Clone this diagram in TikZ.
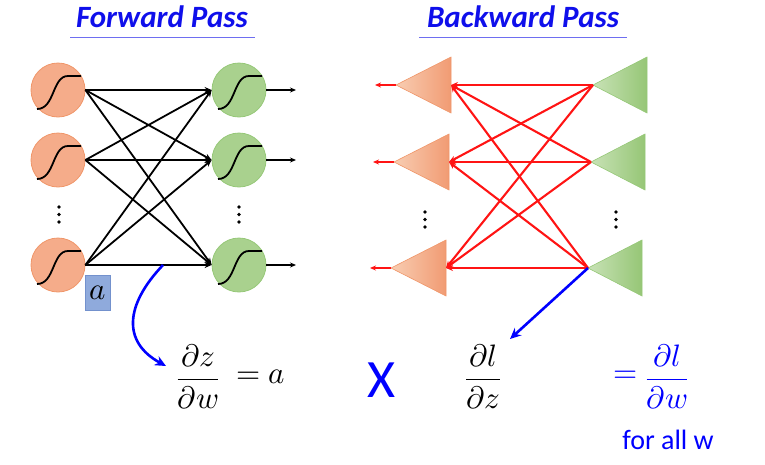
\documentclass[tikz,border=0pt]{standalone}
\usepackage{amsmath}
\usepackage{fontspec}
\usepackage{unicode-math}
\setmathfont{Latin Modern Math}
\newfontfamily\calfont{Carlito}
\usetikzlibrary{arrows.meta}
\definecolor{ttl}{RGB}{15,15,235}
\definecolor{ulc}{RGB}{110,110,240}
\definecolor{orfill}{RGB}{245,172,138}
\definecolor{ordraw}{RGB}{240,150,105}
\definecolor{grfill}{RGB}{169,209,142}
\definecolor{grdraw}{RGB}{150,200,120}
\definecolor{orL}{RGB}{248,205,178}
\definecolor{orR}{RGB}{241,155,115}
\definecolor{grL}{RGB}{200,226,182}
\definecolor{grR}{RGB}{150,198,118}
\definecolor{boxfill}{RGB}{143,170,220}
\definecolor{boxdraw}{RGB}{115,145,205}
\definecolor{eqblue}{RGB}{0,0,255}
\definecolor{redl}{RGB}{255,20,20}
\tikzset{
  neuronO/.style={circle,minimum size=54pt,inner sep=0pt,fill=orfill,draw=ordraw,line width=0.8pt},
  neuronG/.style={circle,minimum size=54pt,inner sep=0pt,fill=grfill,draw=grdraw,line width=0.8pt},
  sigline/.style={line width=1.8pt,black},
  fwd/.style={line width=1.8pt,black,-{Stealth[length=7pt,width=6pt]}},
  bwd/.style={line width=2.1pt,redl,-{Stealth[length=7pt,width=6pt]}},
  outarr/.style={line width=1.6pt,black,-{Stealth[length=6pt,width=5pt]}},
  redout/.style={line width=2pt,redl,-{Stealth[length=6pt,width=5pt]}},
  titletext/.style={font=\calfont\bfseries\itshape\fontsize{31}{36}\selectfont,text=ttl},
  uline/.style={ulc,line width=0.9pt},
  vdot/.style={circle,fill=black,inner sep=0pt,minimum size=3.6pt},
  eq/.style={font=\fontsize{31}{36}\selectfont,inner sep=0pt},
  bluearr/.style={eqblue,line width=2.6pt,-{Stealth[length=11pt,width=10pt]}},
}
\begin{document}
\begin{tikzpicture}[x=1pt,y=-1pt]
\useasboundingbox (0,0) rectangle (765,464);
% titles
\node[titletext] (tf) at (162,17) {Forward Pass};
\draw[uline] (70,37) -- (255,37);
\node[titletext] (tb) at (523,17) {Backward Pass};
\draw[uline] (419,37) -- (627,37);
% forward neurons
\foreach \i/\y in {1/90,2/160,3/265}{
  \node[neuronO] (o\i) at (58,\y) {};
  \node[neuronG] (g\i) at (239,\y) {};
  \coordinate (q\i) at (296,\y);
  \foreach \cx in {58,239}{
    \draw[sigline,shift={(\cx,\y)}] (-21,19) .. controls (-3,19) and (-6,-14) .. (10,-14) -- (23,-14);
  }
}
\foreach \i in {1,2,3}{
  \foreach \j in {1,2,3}{
    \draw[fwd] (o\i.east) -- (g\j.west);
  }
  \draw[outarr] (g\i.east) -- (q\i);
}
% vertical dots
\foreach \cx/\cy in {59/207,239/207,425/212,616/212}{
  \foreach \k in {0,1,2}{
    \node[vdot] at (\cx,{\cy+7.5*\k}) {};
  }
}
% a box
\node[fill=boxfill,draw=boxdraw,line width=0.6pt,minimum width=25pt,minimum height=35pt,inner sep=0pt,font=\fontsize{31}{36}\selectfont] (abox) at (97.5,293) {$a$};
% backward triangles
\foreach \i/\y/\dx in {1/85/0,2/162/-2,3/268/-5}{
  \shade[left color=orL,right color=orR,draw=ordraw,line width=0.6pt]
    ({396+\dx},\y) -- ({451+\dx},{\y-28}) -- ({451+\dx},{\y+28}) -- cycle;
  \shade[left color=grL,right color=grR,draw=grdraw,line width=0.6pt]
    ({593+\dx},\y) -- ({647+\dx},{\y-28}) -- ({647+\dx},{\y+28}) -- cycle;
  \coordinate (oa\i) at ({396+\dx},\y);
  \coordinate (ob\i) at ({451+\dx},\y);
  \coordinate (ga\i) at ({593+\dx},\y);
  \coordinate (ro\i) at ({375+\dx},\y);
}
\foreach \i in {1,2,3}{
  \foreach \j in {1,2,3}{
    \draw[bwd] (ga\i) -- (ob\j);
  }
  \draw[redout] (oa\i) -- (ro\i);
}
% blue connectors
\coordinate (fs) at (163,265);
\coordinate (ft) at (166,366);
\draw[bluearr] (fs) .. controls (125,305) and (122,342) .. (ft);
\coordinate (bt) at (510,339);
\draw[bluearr] (ga3) -- (bt);
% equations
\node[eq,anchor=center] (e1) at (198,377) {$\dfrac{\partial z}{\partial w}$};
\node[eq,anchor=west] (e2) at (236,377) {$=a$};
\node[font=\calfont\fontsize{54}{60}\selectfont,text=eqblue,inner sep=0pt] (x) at (382,380) {X};
\node[eq] (e3) at (483,377) {$\dfrac{\partial l}{\partial z}$};
\node[eq,text=eqblue,anchor=east] (e4) at (638,377) {$=$};
\node[eq,text=eqblue] (e5) at (667,377) {$\dfrac{\partial l}{\partial w}$};
\node[font=\calfont\fontsize{28}{32}\selectfont,text=eqblue,inner sep=0pt] (fa) at (668,440) {for all w};
\end{tikzpicture}
\end{document}
